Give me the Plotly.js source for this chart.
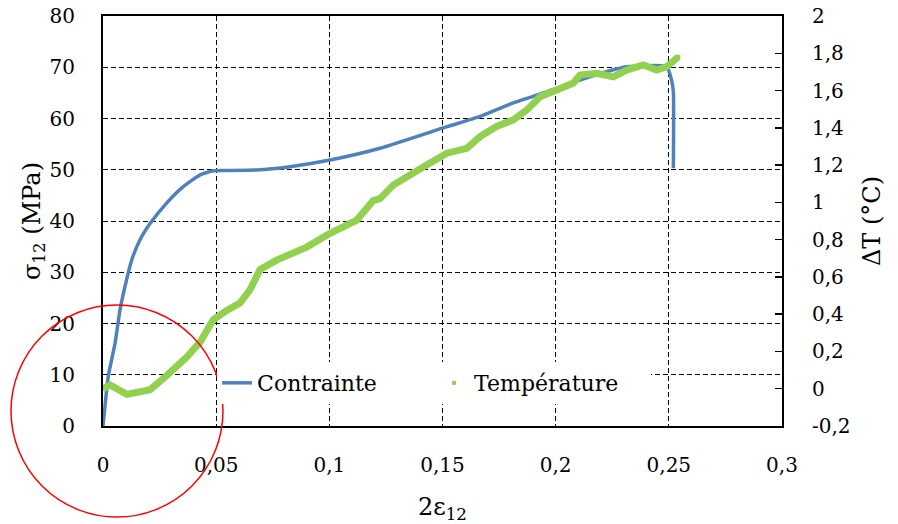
<!DOCTYPE html>
<html>
<head>
<meta charset="utf-8">
<script src="https://cdn.plot.ly/plotly-3.0.1.min.js"></script>
<style>html,body{margin:0;padding:0;background:#fff;}#chart{width:898px;height:524px;}</style>
</head>
<body>
<div id="chart"></div>
<script>
// Contrainte (shear stress, MPa) vs 2*eps12
const strainStress = [0, 0.0023, 0.0053, 0.0075, 0.0097, 0.0127, 0.0163, 0.0208, 0.0281, 0.0355, 0.0429, 0.0487, 0.053, 0.068, 0.0826, 0.1003, 0.1224, 0.152, 0.1666, 0.181, 0.196, 0.2107, 0.2255, 0.2314, 0.249, 0.2512, 0.252, 0.252];
const stress = [0, 9.6, 16.1, 22.6, 27.2, 32.4, 36.3, 39.5, 43.5, 46.7, 49, 49.8, 49.85, 49.95, 50.6, 51.9, 54.2, 58.4, 60.4, 63, 65.2, 67.5, 69.5, 70.1, 70.1, 67.5, 65.2, 50.3];
// Température (delta T, °C) vs 2*eps12
const strainTemp = [0, 0.0031, 0.0105, 0.0208, 0.0281, 0.037, 0.0429, 0.0487, 0.0547, 0.0605, 0.0649, 0.0694, 0.0767, 0.09, 0.1003, 0.1121, 0.1194, 0.1224, 0.1268, 0.1283, 0.1415, 0.1519, 0.1607, 0.1666, 0.1739, 0.1813, 0.1872, 0.1931, 0.2005, 0.2078, 0.2107, 0.2181, 0.2255, 0.2314, 0.2387, 0.2446, 0.2491, 0.2542];
const deltaT = [0.0, 0.02, -0.03, -0.005, 0.07, 0.17, 0.25, 0.37, 0.42, 0.46, 0.53, 0.64, 0.69, 0.76, 0.834, 0.905, 1.01, 1.02, 1.075, 1.093, 1.19, 1.264, 1.29, 1.353, 1.407, 1.443, 1.495, 1.567, 1.603, 1.64, 1.683, 1.693, 1.674, 1.71, 1.737, 1.71, 1.728, 1.781];

const xTickVals = [0, 0.05, 0.1, 0.15, 0.2, 0.25, 0.3];
const xTickText = ["0", "0,05", "0,1", "0,15", "0,2", "0,25", "0,3"];
const yTickVals = [0, 10, 20, 30, 40, 50, 60, 70, 80];
const yTickText = ["0", "10", "20", "30", "40", "50", "60", "70", "80"];
const y2TickVals = [-0.2, 0, 0.2, 0.4, 0.6, 0.8, 1, 1.2, 1.4, 1.6, 1.8, 2];
const y2TickText = ["-0,2", "0", "0,2", "0,4", "0,6", "0,8", "1", "1,2", "1,4", "1,6", "1,8", "2"];

const FONT = "DejaVu Serif, Liberation Serif, serif";
const blue = "#4f81bd";
const green = "#92d050";

const traces = [
  {x: strainTemp, y: deltaT, yaxis: "y2", mode: "lines", line: {color: green, width: 7}, showlegend: false, hoverinfo: "skip"},
  {x: strainTemp, y: deltaT, yaxis: "y2", mode: "markers", name: "Température", marker: {color: green, size: 4, symbol: "square"}},
  {x: strainStress, y: stress, mode: "lines", name: "Contrainte", line: {color: blue, width: 3.5, shape: "spline", smoothing: 0.5}}
];

const layout = {
  width: 898, height: 524,
  margin: {l: 103, r: 116, t: 16, b: 98},
  paper_bgcolor: "#fff", plot_bgcolor: "#fff",
  font: {family: FONT, size: 20, color: "#000"},
  showlegend: true,
  legend: {orientation: "h", x: 0.168, y: 0.156, xanchor: "left", yanchor: "top", bgcolor: "#fff", borderwidth: 0, font: {family: FONT, size: 22}, traceorder: "reversed", entrywidth: 172},
  xaxis: {range: [0, 0.3], tickvals: xTickVals, ticktext: xTickText, ticks: "", showgrid: true, gridcolor: "#000", gridwidth: 1, griddash: "5px,3px", showline: true, linecolor: "#000", linewidth: 2, mirror: true, zeroline: false, ticklabelstandoff: 20, automargin: false, title: {text: "2ε<sub>12</sub>", font: {family: FONT, size: 24}, standoff: 24}},
  yaxis: {range: [0, 80], tickvals: yTickVals, ticktext: yTickText, ticks: "", showgrid: true, gridcolor: "#000", gridwidth: 1, griddash: "5px,3px", showline: true, linecolor: "#000", linewidth: 2, zeroline: false, ticklabelstandoff: 22, automargin: false, title: {text: "σ<sub>12</sub> (MPa)", font: {family: FONT, size: 24}, standoff: 2}},
  yaxis2: {range: [-0.2, 2], overlaying: "y", side: "right", tickvals: y2TickVals, ticktext: y2TickText, ticks: "inside", ticklen: 7, tickwidth: 1.5, tickcolor: "#000", showgrid: false, showline: true, linecolor: "#000", linewidth: 2, zeroline: false, ticklabelstandoff: 24, automargin: false, title: {text: "ΔT (°C)", font: {family: FONT, size: 24}, standoff: 14}},
  shapes: [
    {type: "circle", xref: "paper", yref: "paper", x0: -0.1355, x1: 0.1767, y0: -0.222, y1: 0.295, line: {color: "#ff0000", width: 1.5}, layer: "above"}
  ]
};

Plotly.newPlot("chart", traces, layout, {staticPlot: true, displayModeBar: false});
</script>
</body>
</html>
